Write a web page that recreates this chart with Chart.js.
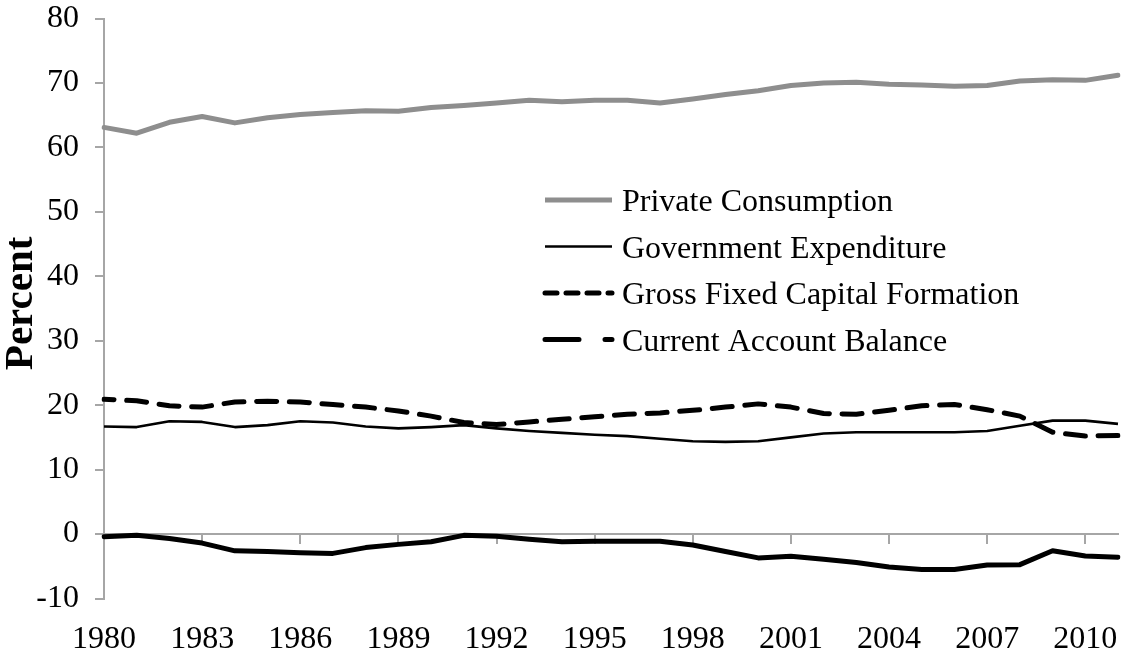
<!DOCTYPE html>
<html>
<head>
<meta charset="utf-8">
<script src="https://cdn.jsdelivr.net/npm/chart.js@4.4.1/dist/chart.umd.min.js"></script>
<style>
html,body{margin:0;padding:0;background:#fff;}
#wrap{width:1126px;height:657px;}
canvas{display:block;}
</style>
</head>
<body>
<div id="wrap"><canvas id="c" width="1126" height="657"></canvas></div>
<script>
// ---- data ----
const years = ['1980','1981','1982','1983','1984','1985','1986','1987','1988','1989',
               '1990','1991','1992','1993','1994','1995','1996','1997','1998','1999',
               '2000','2001','2002','2003','2004','2005','2006','2007','2008','2009',
               '2010','2011'];
const privateConsumption = [63.1, 62.2, 63.9, 64.8, 63.8, 64.6, 65.1, 65.4, 65.7, 65.6,
                            66.2, 66.5, 66.9, 67.3, 67.1, 67.3, 67.3, 66.9, 67.5, 68.2,
                            68.8, 69.6, 70.0, 70.1, 69.8, 69.7, 69.5, 69.6, 70.3, 70.5,
                            70.4, 71.2];
const governmentExpenditure = [16.7, 16.6, 17.5, 17.4, 16.6, 16.9, 17.5, 17.3, 16.7, 16.4,
                               16.6, 16.9, 16.4, 16.0, 15.7, 15.4, 15.2, 14.8, 14.4, 14.3,
                               14.4, 15.0, 15.6, 15.8, 15.8, 15.8, 15.8, 16.0, 16.8, 17.6,
                               17.6, 17.1];
const grossFixedCapital = [20.9, 20.7, 19.9, 19.7, 20.5, 20.6, 20.5, 20.1, 19.7, 19.1,
                           18.3, 17.3, 17.0, 17.4, 17.8, 18.2, 18.6, 18.8, 19.2, 19.7,
                           20.2, 19.7, 18.7, 18.6, 19.2, 19.9, 20.1, 19.3, 18.3, 15.8,
                           15.2, 15.3];
const currentAccount = [-0.4, -0.2, -0.7, -1.4, -2.6, -2.7, -2.9, -3.0, -2.1, -1.6,
                        -1.2, -0.2, -0.35, -0.8, -1.2, -1.1, -1.1, -1.1, -1.7, -2.7,
                        -3.7, -3.45, -3.9, -4.4, -5.1, -5.5, -5.5, -4.8, -4.75, -2.6,
                        -3.4, -3.6];
const seriesNames = ['Private Consumption', 'Government Expenditure',
                     'Gross Fixed Capital Formation', 'Current Account Balance'];
const yMin = -10, yMax = 80, yStep = 10;
const labelEvery = 3;
const yTitle = 'Percent';

// ---- styles ----
const FONT = "'Liberation Serif','Times New Roman',serif";
const AXIS_GRAY = '#a6a6a6';

const insideLegend = {
  id: 'insideLegend',
  afterDatasetsDraw(chart, args, opts) {
    const ctx = chart.ctx;
    ctx.save();
    chart.data.datasets.forEach((ds, i) => {
      const y = opts.y0 + i * opts.gap;
      ctx.beginPath();
      ctx.lineWidth = ds.borderWidth;
      ctx.strokeStyle = ds.borderColor;
      ctx.lineCap = ds.legendCap || 'butt';
      ctx.setLineDash(ds.legendDash || []);
      ctx.moveTo(opts.x0, y);
      ctx.lineTo(opts.x1, y);
      ctx.stroke();
      ctx.setLineDash([]);
      ctx.fillStyle = '#000';
      ctx.font = opts.fontSize + 'px ' + FONT;
      ctx.textAlign = 'left';
      ctx.textBaseline = 'middle';
      ctx.fillText(ds.label, opts.textX, y + 3);
    });
    ctx.restore();
  }
};

new Chart(document.getElementById('c'), {
  type: 'line',
  data: {
    labels: years,
    datasets: [
      { label: seriesNames[0], data: privateConsumption, xAxisID: 'x', yAxisID: 'y',
        borderColor: '#8e8e8e', borderWidth: 5, pointRadius: 0, tension: 0,
        borderJoinStyle: 'round', borderCapStyle: 'round', fill: false },
      { label: seriesNames[1], data: governmentExpenditure, xAxisID: 'x', yAxisID: 'y',
        borderColor: '#000', borderWidth: 2.6, pointRadius: 0, tension: 0,
        borderJoinStyle: 'round', fill: false },
      { label: seriesNames[2], data: grossFixedCapital, xAxisID: 'x', yAxisID: 'y',
        borderColor: '#000', borderWidth: 5, pointRadius: 0, tension: 0,
        borderDash: [20, 12.7], borderDashOffset: 10, borderCapStyle: 'round',
        borderJoinStyle: 'round', fill: false,
        legendDash: [12, 9], legendCap: 'round' },
      { label: seriesNames[3], data: currentAccount, xAxisID: 'x', yAxisID: 'y',
        borderColor: '#000', borderWidth: 5, pointRadius: 0, tension: 0,
        borderJoinStyle: 'round', borderCapStyle: 'round', fill: false,
        legendDash: [34, 26], legendCap: 'round' }
    ]
  },
  options: {
    responsive: false,
    animation: false,
    devicePixelRatio: 1,
    layout: { padding: { top: 18.5, right: 8, bottom: 0, left: 0 } },
    plugins: {
      legend: { display: false },
      tooltip: { enabled: false },
      insideLegend: { x0: 545, x1: 612, textX: 622, y0: 200, gap: 46.5, fontSize: 32 }
    },
    scales: {
      x: {
        type: 'category',
        position: 'bottom',
        offset: false,
        grid: { display: false, drawTicks: false },
        border: { display: false },
        ticks: {
          autoSkip: false, maxRotation: 0, minRotation: 0, padding: 22,
          font: { family: FONT, size: 32 }, color: '#000',
          callback: function (v, i) { return i % labelEvery === 0 ? this.getLabelForValue(v) : ''; }
        },
        afterFit(s) { s.height = 58.5; s.paddingLeft = 0; s.paddingRight = 0; }
      },
      x0: {
        type: 'category',
        axis: 'x',
        position: { y: 0 },
        offset: false,
        grid: {
          drawOnChartArea: false, drawTicks: true, tickLength: 9, lineWidth: 2,
          color: (c) => (c.index % labelEvery === 0 && c.index > 0) ? AXIS_GRAY : 'rgba(0,0,0,0)'
        },
        border: { display: true, color: AXIS_GRAY, width: 2 },
        ticks: { display: false, autoSkip: false },
        afterFit(s) { s.height = 0; s.paddingLeft = 0; s.paddingRight = 0; }
      },
      y: {
        type: 'linear',
        position: 'left',
        min: yMin, max: yMax,
        ticks: { stepSize: yStep, padding: 16, font: { family: FONT, size: 32, lineHeight: 1.0 }, color: '#000' },
        grid: { display: true, drawOnChartArea: false, drawTicks: true, tickLength: 9, lineWidth: 2, color: AXIS_GRAY },
        border: { display: true, color: AXIS_GRAY, width: 2 },
        title: { display: true, text: ' ' + yTitle, color: '#000',
                 font: { family: FONT, size: 41, weight: 'bold', lineHeight: 1.0 }, padding: { top: 1, bottom: 0 } },
        afterFit(s) { s.width = 104; s.paddingTop = 0; s.paddingBottom = 0; }
      }
    }
  },
  plugins: [insideLegend]
});
</script>
</body>
</html>
